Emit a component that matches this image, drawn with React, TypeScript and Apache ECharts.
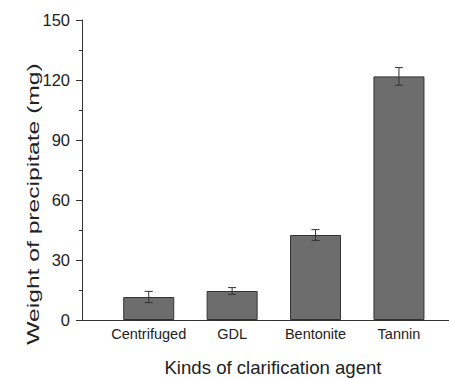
import React, { useEffect, useRef } from "react";
import * as echarts from "echarts";

const categories = ["Centrifuged", "GDL", "Bentonite", "Tannin"];
const values = [11.5, 14.5, 42.5, 121.8];
const errors = [2.8, 1.7, 2.7, 4.4];
const yTicks = [0, 30, 60, 90, 120, 150];

export default function App() {
  const ref = useRef<HTMLDivElement>(null);
  useEffect(() => {
    const chart = echarts.init(ref.current!, null, { renderer: "svg" });
    const font = "'Liberation Sans', Arial, sans-serif";
    const barData = values.map((v, i) => [i + 1, v]);
    const errData = values.map((v, i) => [i + 1, v - errors[i], v + errors[i]]);
    chart.setOption({
      animation: false,
      backgroundColor: "#ffffff",
      grid: { left: 82, top: 20, bottom: 59, right: 0, containLabel: false },
      xAxis: {
        type: "value",
        min: 0.2,
        max: 4.6,
        splitLine: { show: false },
        axisTick: { show: false },
        axisLine: { lineStyle: { color: "#333", width: 1 } },
        axisLabel: {
          margin: 6,
          fontSize: 14.5,
          fontFamily: font,
          color: "#222",
          showMinLabel: false,
          showMaxLabel: false,
          formatter: (v: number) => {
            const r = Math.round(v);
            return Math.abs(v - r) < 1e-6 && r >= 1 && r <= categories.length ? categories[r - 1] : "";
          },
        },
      },
      yAxis: {
        type: "value",
        min: yTicks[0],
        max: yTicks[yTicks.length - 1],
        interval: 30,
        splitLine: { show: false },
        axisLine: { show: true, lineStyle: { color: "#333", width: 1 } },
        axisTick: { show: true, inside: false, length: 6, lineStyle: { color: "#333" } },
        minorTick: { show: true, splitNumber: 2, length: 3, lineStyle: { color: "#333" } },
        axisLabel: { margin: 12, fontSize: 16.5, fontFamily: font, color: "#222" },
      },
      series: [
        {
          type: "bar",
          data: barData,
          barWidth: 51,
          itemStyle: { color: "#6d6d6d", borderColor: "#333", borderWidth: 1 },
        },
        {
          type: "custom",
          data: errData,
          z: 10,
          renderItem: (params: any, api: any) => {
            const x = api.value(0);
            const lo = api.coord([x, api.value(1)]);
            const hi = api.coord([x, api.value(2)]);
            const hw = 4;
            const style = { stroke: "#333", lineWidth: 1 };
            return {
              type: "group",
              children: [
                { type: "line", shape: { x1: lo[0], y1: lo[1], x2: hi[0], y2: hi[1] }, style },
                { type: "line", shape: { x1: lo[0] - hw, y1: lo[1], x2: lo[0] + hw, y2: lo[1] }, style },
                { type: "line", shape: { x1: hi[0] - hw, y1: hi[1], x2: hi[0] + hw, y2: hi[1] }, style },
              ],
            };
          },
        },
      ],
      graphic: [
        {
          type: "text",
          x: 33,
          y: 204,
          rotation: Math.PI / 2,
          scaleX: 1.45,
          style: {
            text: "Weight of precipitate (mg)",
            fontSize: 17,
            fontFamily: font,
            fill: "#222",
            align: "center",
            verticalAlign: "middle",
          },
        },
        {
          type: "text",
          x: 273,
          y: 367,
          style: {
            text: "Kinds of clarification agent",
            fontSize: 18.6,
            fontFamily: font,
            fill: "#222",
            align: "center",
            verticalAlign: "middle",
          },
        },
      ],
    });
    return () => chart.dispose();
  }, []);
  return <div ref={ref} style={{ width: 449, height: 379, position: "absolute", left: 0, top: 0 }} />;
}
